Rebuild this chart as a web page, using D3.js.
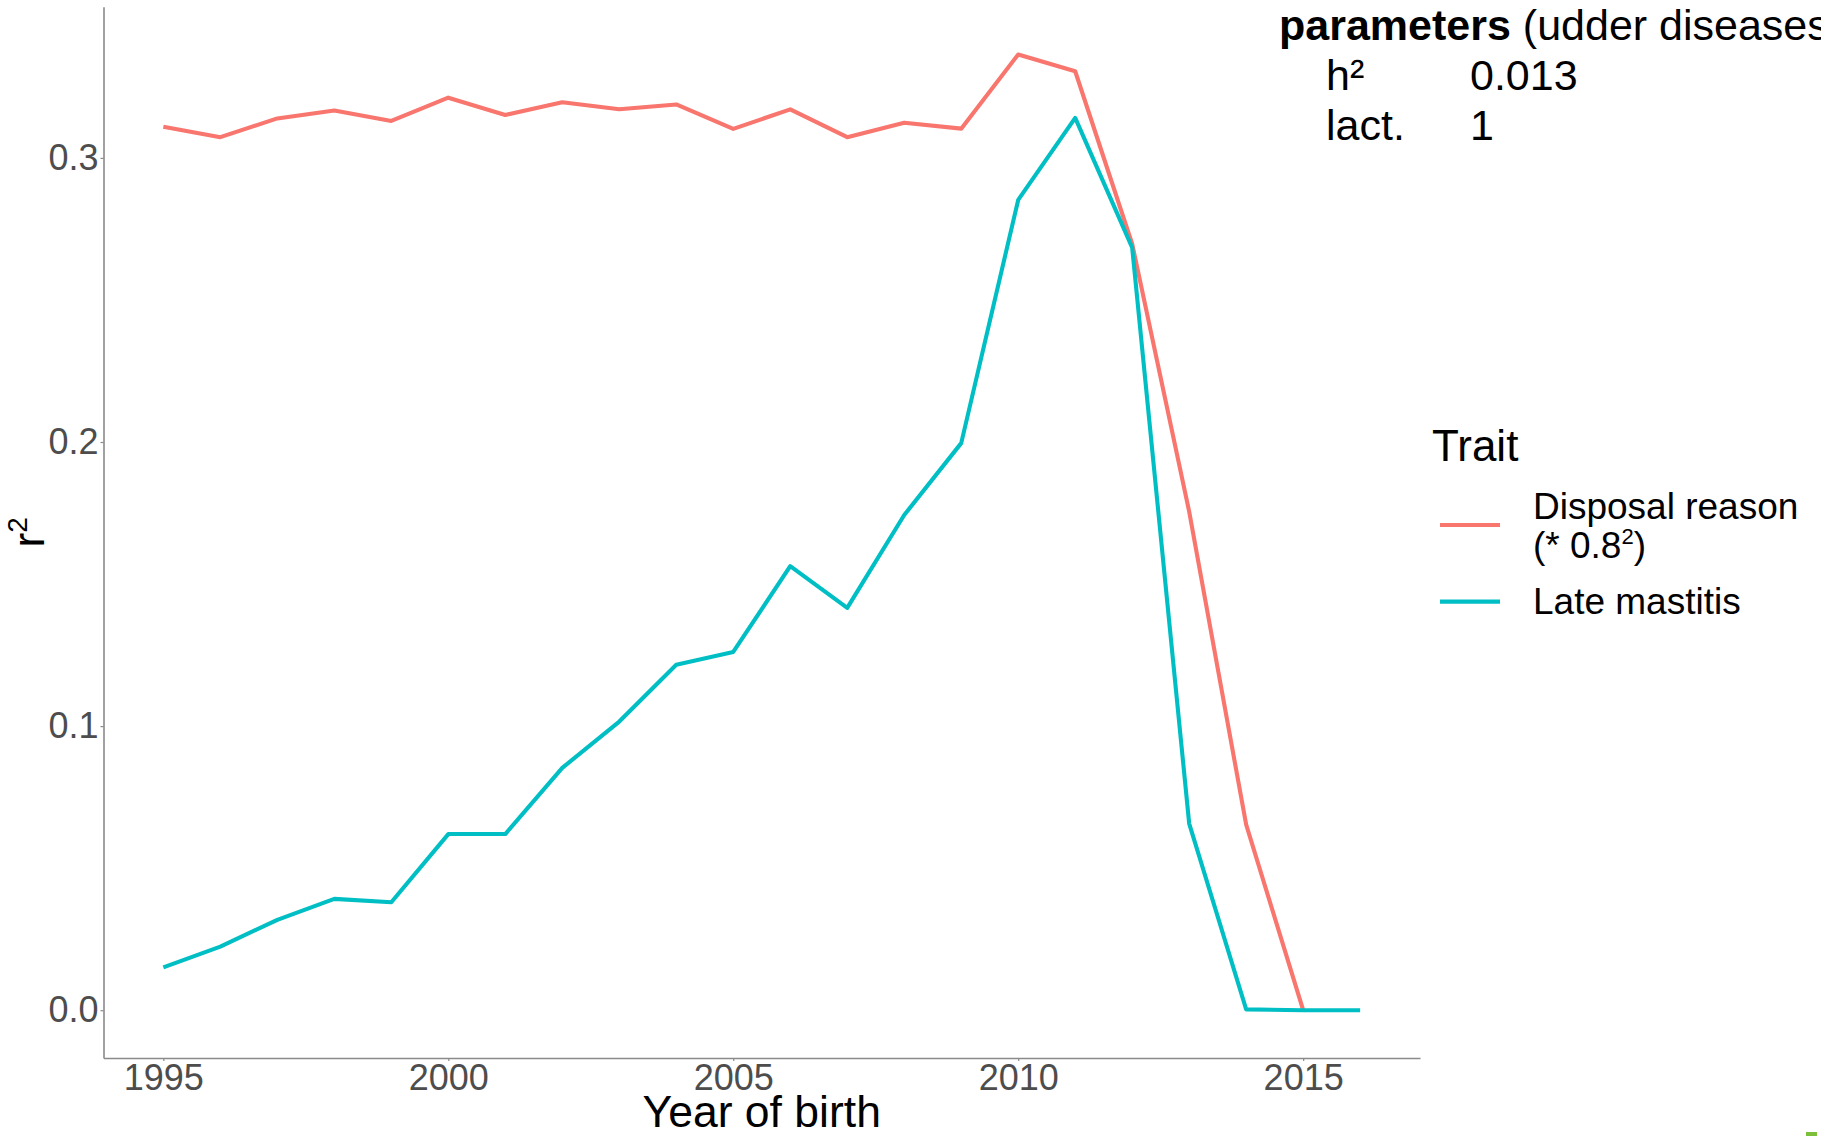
<!DOCTYPE html>
<html>
<head>
<meta charset="utf-8">
<script src="https://cdn.jsdelivr.net/npm/d3@7"></script>
<style>
  html, body { margin: 0; padding: 0; background: #ffffff; overflow: hidden; }
  svg { display: block; font-family: "Liberation Sans", Arial, Helvetica, sans-serif; }
</style>
</head>
<body>
<svg id="chart" width="1821" height="1136"></svg>
<script>
// Birth years on the x axis
const years = [1995, 1996, 1997, 1998, 1999, 2000, 2001, 2002, 2003, 2004, 2005,
               2006, 2007, 2008, 2009, 2010, 2011, 2012, 2013, 2014, 2015, 2016];

// r² per birth year, disposal reason (scaled by 0.8²) — no value for 2016
const disposalReason = [0.3110, 0.3073, 0.3139, 0.3167, 0.3130, 0.3212, 0.3151, 0.3196,
                        0.3171, 0.3188, 0.3102, 0.3171, 0.3073, 0.3124, 0.3103, 0.3364,
                        0.3305, 0.2697, 0.1755, 0.0653, 0.0000, null];

// r² per birth year, late mastitis
const lateMastitis = [0.0151, 0.0224, 0.0318, 0.0392, 0.0380, 0.0620, 0.0620, 0.0853,
                      0.1016, 0.1216, 0.1261, 0.1563, 0.1416, 0.1743, 0.1996, 0.2852,
                      0.3141, 0.2684, 0.0657, 0.0003, 0.0000, 0.0000];

const xTicks = [1995, 2000, 2005, 2010, 2015];
const yTicks = [0.0, 0.1, 0.2, 0.3];

const seriesNames = ["Disposal reason", "Late mastitis"];
const seriesColors = ["#F8766D", "#00BFC4"];

const svg = d3.select("#chart");

// Panel bounds
const panel = { left: 103.5, right: 1420, top: 6.7, bottom: 1058 };

// ggplot-style 5% expansion of the data range
const xExt = d3.extent(years);
const xPad = (xExt[1] - xExt[0]) * 0.05;
const yMax = d3.max(disposalReason.concat(lateMastitis));
const yPad = yMax * 0.05;

const x = d3.scaleLinear().domain([xExt[0] - xPad, xExt[1] + xPad]).range([panel.left, panel.right]);
const y = d3.scaleLinear().domain([0 - yPad, yMax + yPad]).range([panel.bottom, panel.top]);

const axisColor = "#8a8a8a";
const tickTextColor = "#4d4d4d";

// X axis
const gx = svg.append("g")
  .attr("transform", `translate(0,${panel.bottom})`)
  .call(d3.axisBottom(x).tickValues(xTicks).tickFormat(d3.format("d"))
        .tickSizeInner(3).tickSizeOuter(0).tickPadding(5));
gx.select(".domain").attr("stroke", axisColor).attr("stroke-width", 1.6);
gx.selectAll(".tick line").attr("stroke", axisColor).attr("stroke-width", 1.2);
gx.selectAll(".tick text")
  .attr("fill", tickTextColor)
  .attr("font-size", 36)
  .attr("font-family", "Liberation Sans, Arial, sans-serif")
  .attr("dy", null)
  .attr("y", 32);

// Y axis
const gy = svg.append("g")
  .attr("transform", `translate(${panel.left},0)`)
  .call(d3.axisLeft(y).tickValues(yTicks).tickFormat(d3.format(".1f"))
        .tickSizeInner(3).tickSizeOuter(0).tickPadding(2));
gy.select(".domain").attr("stroke", axisColor).attr("stroke-width", 1.6);
gy.selectAll(".tick line").attr("stroke", axisColor).attr("stroke-width", 1.2);
gy.selectAll(".tick text")
  .attr("fill", tickTextColor)
  .attr("font-size", 36)
  .attr("font-family", "Liberation Sans, Arial, sans-serif");

// Series lines
const line = d3.line()
  .defined(d => d.v !== null)
  .x(d => x(d.year))
  .y(d => y(d.v));

const series = [disposalReason, lateMastitis];
series.forEach((vals, i) => {
  const pts = years.map((yr, j) => ({ year: yr, v: vals[j] }));
  svg.append("path")
    .datum(pts)
    .attr("fill", "none")
    .attr("stroke", seriesColors[i])
    .attr("stroke-width", 4.1)
    .attr("stroke-linejoin", "round")
    .attr("d", line);
});

// Axis titles
svg.append("text")
  .attr("x", (panel.left + panel.right) / 2)
  .attr("y", 1127)
  .attr("text-anchor", "middle")
  .attr("font-size", 44.5)
  .attr("fill", "#000")
  .text("Year of birth");

const yTitle = svg.append("text")
  .attr("transform", `translate(44,${(panel.top + panel.bottom) / 2}) rotate(-90)`)
  .attr("text-anchor", "middle")
  .attr("font-size", 44)
  .attr("fill", "#000");
yTitle.append("tspan").text("r");
yTitle.append("tspan").attr("font-size", 28).attr("dy", -17).text("2");

// Legend
const legend = svg.append("g");
legend.append("text")
  .attr("x", 1432).attr("y", 461)
  .attr("font-size", 44)
  .attr("fill", "#000")
  .text("Trait");

const keyY = [525, 601.6];
seriesColors.forEach((c, i) => {
  legend.append("line")
    .attr("x1", 1440).attr("x2", 1500)
    .attr("y1", keyY[i]).attr("y2", keyY[i])
    .attr("stroke", c).attr("stroke-width", 4.1);
});

legend.append("text")
  .attr("x", 1533).attr("y", 519)
  .attr("font-size", 37).attr("fill", "#000")
  .text(seriesNames[0]);
const sub = legend.append("text")
  .attr("x", 1533).attr("y", 558)
  .attr("font-size", 37).attr("fill", "#000");
sub.append("tspan").text("(* 0.8");
sub.append("tspan").attr("font-size", 22).attr("dy", -14).text("2");
sub.append("tspan").attr("dy", 14).text(")");
legend.append("text")
  .attr("x", 1533).attr("y", 614)
  .attr("font-size", 37).attr("fill", "#000")
  .text(seriesNames[1]);

// Parameter block, top right (runs past the right edge)
const params = svg.append("g").attr("font-size", 43).attr("fill", "#000");
const head = params.append("text").attr("x", 1279).attr("y", 40);
head.append("tspan").attr("font-weight", "bold").text("parameters");
head.append("tspan").text(" (udder diseases)");

const paramRows = [["h²", "0.013"], ["lact.", "1"]];
paramRows.forEach((r, i) => {
  params.append("text").attr("x", 1326).attr("y", 90 + i * 50).text(r[0]);
  params.append("text").attr("x", 1470).attr("y", 90 + i * 50).text(r[1]);
});

// Small green mark in the lower-right corner
svg.append("rect")
  .attr("x", 1806).attr("y", 1132)
  .attr("width", 11).attr("height", 4)
  .attr("fill", "#7cbf3a");
</script>
</body>
</html>
